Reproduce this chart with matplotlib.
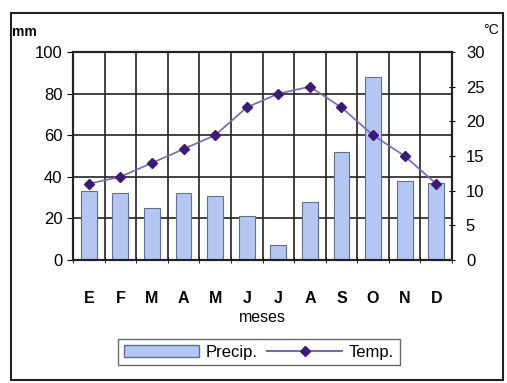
import matplotlib.pyplot as plt
import numpy as np
from matplotlib.lines import Line2D
from matplotlib.patches import Patch, Rectangle

# data
meses = ['E', 'F', 'M', 'A', 'M', 'J', 'J', 'A', 'S', 'O', 'N', 'D']
precip = [33, 32, 25, 32, 31, 21, 7, 28, 52, 88, 38, 37]
temp = [11, 12, 14, 16, 18, 22, 24, 25, 22, 18, 15, 11]

plt.rcParams['font.family'] = ['Liberation Sans', 'DejaVu Sans']

fig = plt.figure(figsize=(5.07, 3.83), dpi=100)
ax = fig.add_axes([73 / 507, 1 - 260 / 383, (452 - 73) / 507, (260 - 52) / 383])
x = np.arange(len(meses))

ax.bar(x, precip, width=0.5, color='#b3c7f2', edgecolor='#5a6f9c', linewidth=0.8, zorder=2)
ax.set_xlim(-0.5, len(meses) - 0.5)
ax.set_ylim(0, 100)
ax.set_yticks(range(0, 101, 20))
ax.set_xticks(x)
ax.set_xticklabels(meses, fontsize=11.5, fontweight='bold')
ax.tick_params(axis='x', length=0, pad=22)
ax.tick_params(axis='y', labelsize=12, length=4, direction='out')
ax.set_xticks(np.arange(-0.5, len(meses), 1), minor=True)
ax.tick_params(axis='x', which='minor', length=5, direction='inout')
ax.grid(True, axis='y', color='#222222', linewidth=1.2, zorder=0)
ax.grid(True, axis='x', which='minor', color='#222222', linewidth=1.2, zorder=0)
for s in ax.spines.values():
    s.set_linewidth(1.5)
    s.set_color('#222222')
ax.set_xlabel('meses', fontsize=11.5, labelpad=3)

ax2 = ax.twinx()
ax2.plot(x, temp, '-', color='#7a66b8', linewidth=1.2, marker='D', markersize=5.5,
         markerfacecolor='#3d1a7a', markeredgecolor='#3d1a7a', zorder=3)
ax2.set_ylim(0, 30)
ax2.set_yticks(range(0, 31, 5))
ax2.tick_params(axis='y', labelsize=12, length=4, direction='inout', pad=8)
for s in ax2.spines.values():
    s.set_linewidth(1.5)
    s.set_color('#222222')

fig.text(12 / 507, 1 - 32 / 383, 'mm', fontsize=10, fontweight='bold', va='center')
fig.text(483 / 507, 1 - 30 / 383, '°C', fontsize=10, va='center')

handles = [Patch(facecolor='#b3c7f2', edgecolor='#5a6f9c'),
           Line2D([], [], color='#7a66b8', marker='D', markersize=5.5,
                  markerfacecolor='#3d1a7a', markeredgecolor='#3d1a7a')]
leg = fig.legend(handles, ['Precip.', 'Temp.'], loc='center', ncol=2,
                 bbox_to_anchor=(259 / 507, 1 - 352 / 383), fontsize=12,
                 frameon=True, fancybox=False, edgecolor='#444444',
                 handlelength=4.5, columnspacing=0.6, handletextpad=0.4,
                 borderpad=0.35)
leg.get_frame().set_linewidth(1.0)

fig.patches.append(Rectangle((11 / 507, 1 - 380 / 383), (503 - 11) / 507, (380 - 13) / 383,
                             transform=fig.transFigure, fill=False,
                             edgecolor='#222222', linewidth=1.5))

fig.savefig('out.png', dpi=100)
